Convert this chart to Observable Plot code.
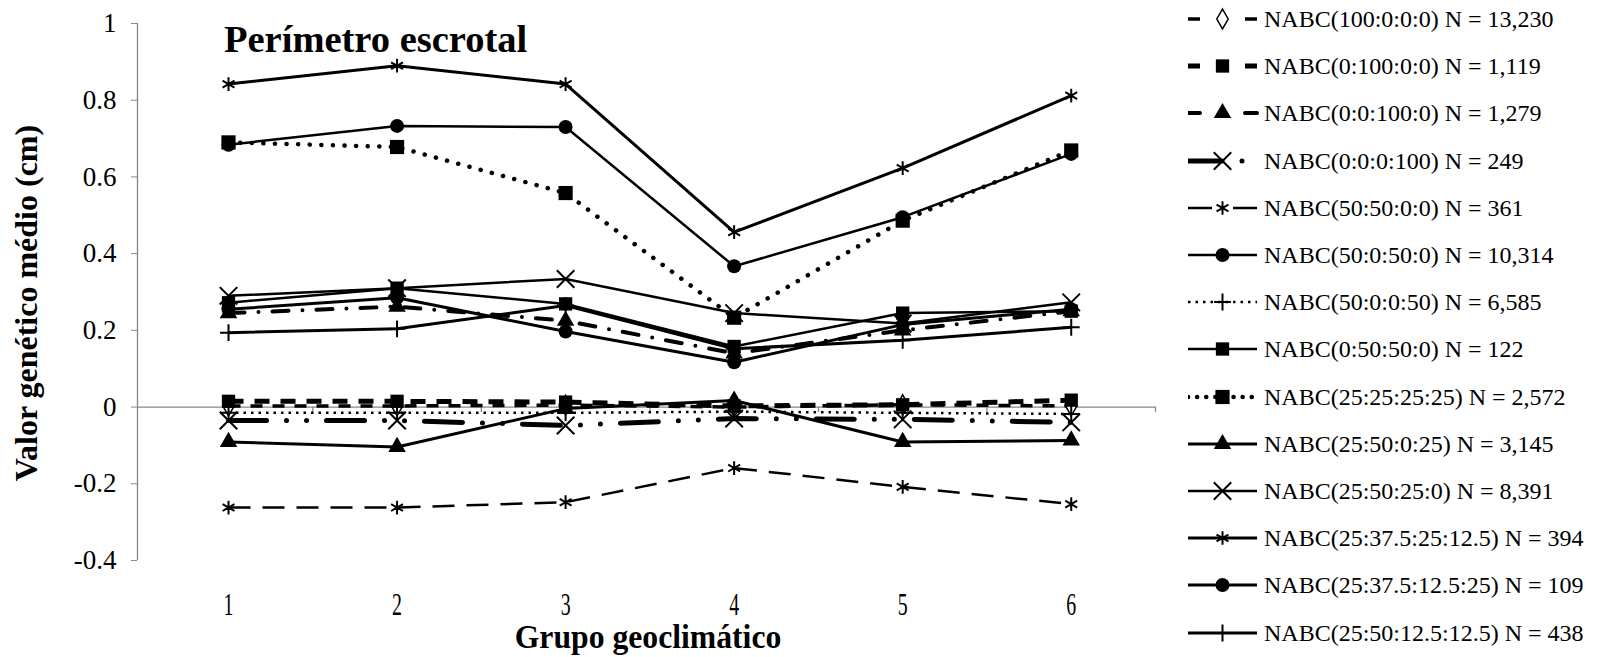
<!DOCTYPE html>
<html><head><meta charset="utf-8">
<script src="https://cdn.jsdelivr.net/npm/d3@7"></script>
<script src="https://cdn.jsdelivr.net/npm/@observablehq/plot@0.6"></script>
<style>
body{margin:0;background:#fff;font-family:"Liberation Serif","Times New Roman",serif;}
#wrap{position:relative;width:1623px;height:657px;overflow:hidden;background:#fff;}
#wrap svg.plot{position:absolute;left:0;top:0;}
.lbl{position:absolute;white-space:nowrap;color:#000;font-family:"Liberation Serif","Times New Roman",serif;line-height:1;}
#legend{position:absolute;left:1188px;top:0;}
.lg{position:absolute;left:0;height:30px;white-space:nowrap;}
.lg svg{position:absolute;left:0;top:0;}
.lg span{position:absolute;left:76px;top:0;font-size:24px;line-height:30px;}
</style></head><body><div id="wrap"></div>
<script>
// ---- data ----
const categories = [1, 2, 3, 4, 5, 6];
const yTicks = [-0.4, -0.2, 0, 0.2, 0.4, 0.6, 0.8, 1];
const seriesNames = [
  "NABC(100:0:0:0) N = 13,230",
  "NABC(0:100:0:0) N = 1,119",
  "NABC(0:0:100:0) N = 1,279",
  "NABC(0:0:0:100) N = 249",
  "NABC(50:50:0:0) N = 361",
  "NABC(50:0:50:0) N = 10,314",
  "NABC(50:0:0:50) N = 6,585",
  "NABC(0:50:50:0) N = 122",
  "NABC(25:25:25:25) N = 2,572",
  "NABC(25:50:0:25) N = 3,145",
  "NABC(25:50:25:0) N = 8,391",
  "NABC(25:37.5:25:12.5) N = 394",
  "NABC(25:37.5:12.5:25) N = 109",
  "NABC(25:50:12.5:12.5) N = 438"
];
const v_100_0_0_0 = [0.003, 0.003, 0.005, 0.0, 0.006, 0.003];
const v_0_100_0_0 = [0.015, 0.015, 0.013, 0.003, 0.006, 0.018];
const v_0_0_100_0 = [0.245, 0.262, 0.225, 0.14, 0.2, 0.25];
const v_0_0_0_100 = [-0.035, -0.035, -0.048, -0.03, -0.032, -0.04];
const v_50_50_0_0 = [-0.262, -0.262, -0.248, -0.159, -0.208, -0.253];
const v_50_0_50_0 = [0.684, 0.733, 0.73, 0.367, 0.495, 0.66];
const v_50_0_0_50 = [-0.015, -0.015, -0.015, -0.012, -0.015, -0.018];
const v_0_50_50_0 = [0.272, 0.31, 0.269, 0.158, 0.245, 0.25];
const v_25_25_25_25 = [0.69, 0.678, 0.558, 0.233, 0.486, 0.669];
const v_25_50_0_25 = [-0.091, -0.104, -0.004, 0.017, -0.091, -0.087];
const v_25_50_25_0 = [0.29, 0.31, 0.334, 0.245, 0.218, 0.273];
const v_25_375_25_125 = [0.842, 0.89, 0.842, 0.456, 0.623, 0.812];
const v_25_375_125_25 = [0.255, 0.285, 0.197, 0.117, 0.215, 0.255];
const v_25_50_125_125 = [0.194, 0.204, 0.265, 0.152, 0.174, 0.208];
const seriesValues = [v_100_0_0_0, v_0_100_0_0, v_0_0_100_0, v_0_0_0_100, v_50_50_0_0,
  v_50_0_50_0, v_50_0_0_50, v_0_50_50_0, v_25_25_25_25, v_25_50_0_25, v_25_50_25_0,
  v_25_375_25_125, v_25_375_125_25, v_25_50_125_125];

// ---- styles ----
const styles = [
  {dash: "12 10", w: 3.5, cap: "butt", sym: "diamond", r: 6, fill: "white", stroke: "black", sw: 1.5, ldash: "12 45 12"},
  {dash: "15 11", w: 5, cap: "butt", sym: "square", r: 7.5, fill: "black", stroke: "none", sw: 0, ldash: "12 45 12"},
  {dash: "16 14 0 14", w: 4, cap: "round", sym: "triangle", r: 6.5, fill: "black", stroke: "none", sw: 0, ldash: "12 45 12"},
  {dash: "38 20 0 20 0 20", w: 5, cap: "round", sym: "times", r: 8, fill: "none", stroke: "black", sw: 2, ldash: "34 20 0 20"},
  {dash: "22 12", w: 2.5, cap: "butt", sym: "asterisk", r: 6.5, fill: "none", stroke: "black", sw: 2, ldash: "24 21 24"},
  {dash: null, w: 2.5, cap: "butt", sym: "circle", r: 7, fill: "black", stroke: "none", sw: 0},
  {dash: "2.5 5", w: 2.5, cap: "butt", sym: "plus", r: 5.5, fill: "none", stroke: "black", sw: 2},
  {dash: null, w: 2.5, cap: "butt", sym: "square", r: 7.5, fill: "black", stroke: "none", sw: 0},
  {dash: "0.1 11.5", w: 4.5, cap: "round", sym: "square", r: 8, fill: "black", stroke: "none", sw: 0, ldash: "0.1 9"},
  {dash: null, w: 3, cap: "butt", sym: "triangle", r: 6.5, fill: "black", stroke: "none", sw: 0},
  {dash: null, w: 2.5, cap: "butt", sym: "times", r: 8, fill: "none", stroke: "black", sw: 2},
  {dash: null, w: 3, cap: "butt", sym: "asterisk", r: 6.5, fill: "none", stroke: "black", sw: 2},
  {dash: null, w: 3, cap: "butt", sym: "circle", r: 7, fill: "black", stroke: "none", sw: 0},
  {dash: null, w: 3, cap: "butt", sym: "plus", r: 5.5, fill: "none", stroke: "black", sw: 2}
];

const gray = "#878787";
const xStart = 0.46, xEnd = 6.5;
const boundaries = categories.map(c => c + 0.5);

const marks = [
  Plot.ruleX([xStart], {y1: yTicks[0], y2: yTicks[yTicks.length - 1], stroke: gray, strokeWidth: 1.3}),
  Plot.ruleY([0], {x1: xStart, x2: xEnd, stroke: gray, strokeWidth: 1.3}),
  Plot.ruleX(boundaries, {y1: 0, y2: -0.014, stroke: gray, strokeWidth: 1.3}),
  Plot.axisY({ticks: yTicks, tickSize: 6, tickPadding: 15, stroke: gray, fill: "black", fontSize: 27,
    tickFormat: d => String(d), label: null}),
  Plot.axisX({ticks: categories, tickSize: 0, tickPadding: 32, fill: "black", fontSize: 31,
    tickFormat: d => String(d), label: null})
];
seriesValues.forEach((vals, i) => {
  const st = styles[i];
  const rows = categories.map((c, j) => ({x: c, y: vals[j], s: seriesNames[i]}));
  marks.push(Plot.line(rows, {x: "x", y: "y", stroke: "black", strokeWidth: st.w,
    strokeDasharray: st.dash || undefined, strokeLinecap: st.cap, strokeLinejoin: "round"}));
  marks.push(Plot.dot(rows, {x: "x", y: "y", symbol: st.sym, r: st.r, fill: st.fill, stroke: st.stroke, strokeWidth: st.sw}));
});

const chart = Plot.plot({
  width: 1623, height: 657,
  marginLeft: 137, marginRight: 468, marginTop: 23, marginBottom: 97,
  x: {type: "linear", domain: [xStart, xEnd], axis: null},
  y: {domain: [-0.4, 1], axis: null},
  style: {fontFamily: "'Liberation Serif','Times New Roman',serif", background: "white", color: "black"},
  marks
});
chart.classList.add("plot");
const wrap = document.getElementById("wrap");
wrap.appendChild(chart);

// condense the x tick labels (tall narrow digits in the reference)
d3.select(chart).selectAll('g[aria-label="x-axis tick label"] text').each(function() {
  const t = this.getAttribute("transform") || "";
  this.setAttribute("transform", t + " scale(0.64,1)");
});

// titles
function addLabel(text, css) {
  const d = document.createElement("div");
  d.className = "lbl";
  d.textContent = text;
  Object.assign(d.style, css);
  wrap.appendChild(d);
  return d;
}
addLabel("Perímetro escrotal", {left: "224px", top: "20px", fontSize: "38.5px", fontWeight: "bold"});
addLabel("Grupo geoclimático", {left: "648px", top: "621px", fontSize: "33px", fontWeight: "bold",
  transform: "translateX(-50%) scaleX(0.96)", transformOrigin: "50% 50%"});
addLabel("Valor genético médio (cm)", {left: "26px", top: "303px", fontSize: "32px", fontWeight: "bold",
  transform: "translate(-50%,-50%) rotate(-90deg)", transformOrigin: "50% 50%"});

// legend
const legend = document.createElement("div");
legend.id = "legend";
wrap.appendChild(legend);
const symMap = {diamond: d3.symbolDiamond, square: d3.symbolSquare, triangle: d3.symbolTriangle,
  times: d3.symbolTimes, asterisk: d3.symbolAsterisk, circle: d3.symbolCircle, plus: d3.symbolPlus};
seriesNames.forEach((name, i) => {
  const st = styles[i];
  const cy = 19 + i * 47.2;
  const row = document.createElement("div");
  row.className = "lg";
  row.style.top = (cy - 15) + "px";
  legend.appendChild(row);
  const svg = d3.select(row).append("svg").attr("width", 72).attr("height", 30);
  svg.append("line").attr("x1", 0).attr("x2", 69).attr("y1", 15).attr("y2", 15)
    .attr("stroke", "black").attr("stroke-width", st.w)
    .attr("stroke-dasharray", st.ldash || st.dash || null).attr("stroke-linecap", st.cap);
  svg.append("path").attr("transform", "translate(34.5,15)")
    .attr("d", d3.symbol(symMap[st.sym], Math.PI * st.r * st.r)())
    .attr("fill", st.fill).attr("stroke", st.stroke).attr("stroke-width", st.sw);
  const sp = document.createElement("span");
  sp.textContent = name;
  row.appendChild(sp);
});
</script></body></html>
